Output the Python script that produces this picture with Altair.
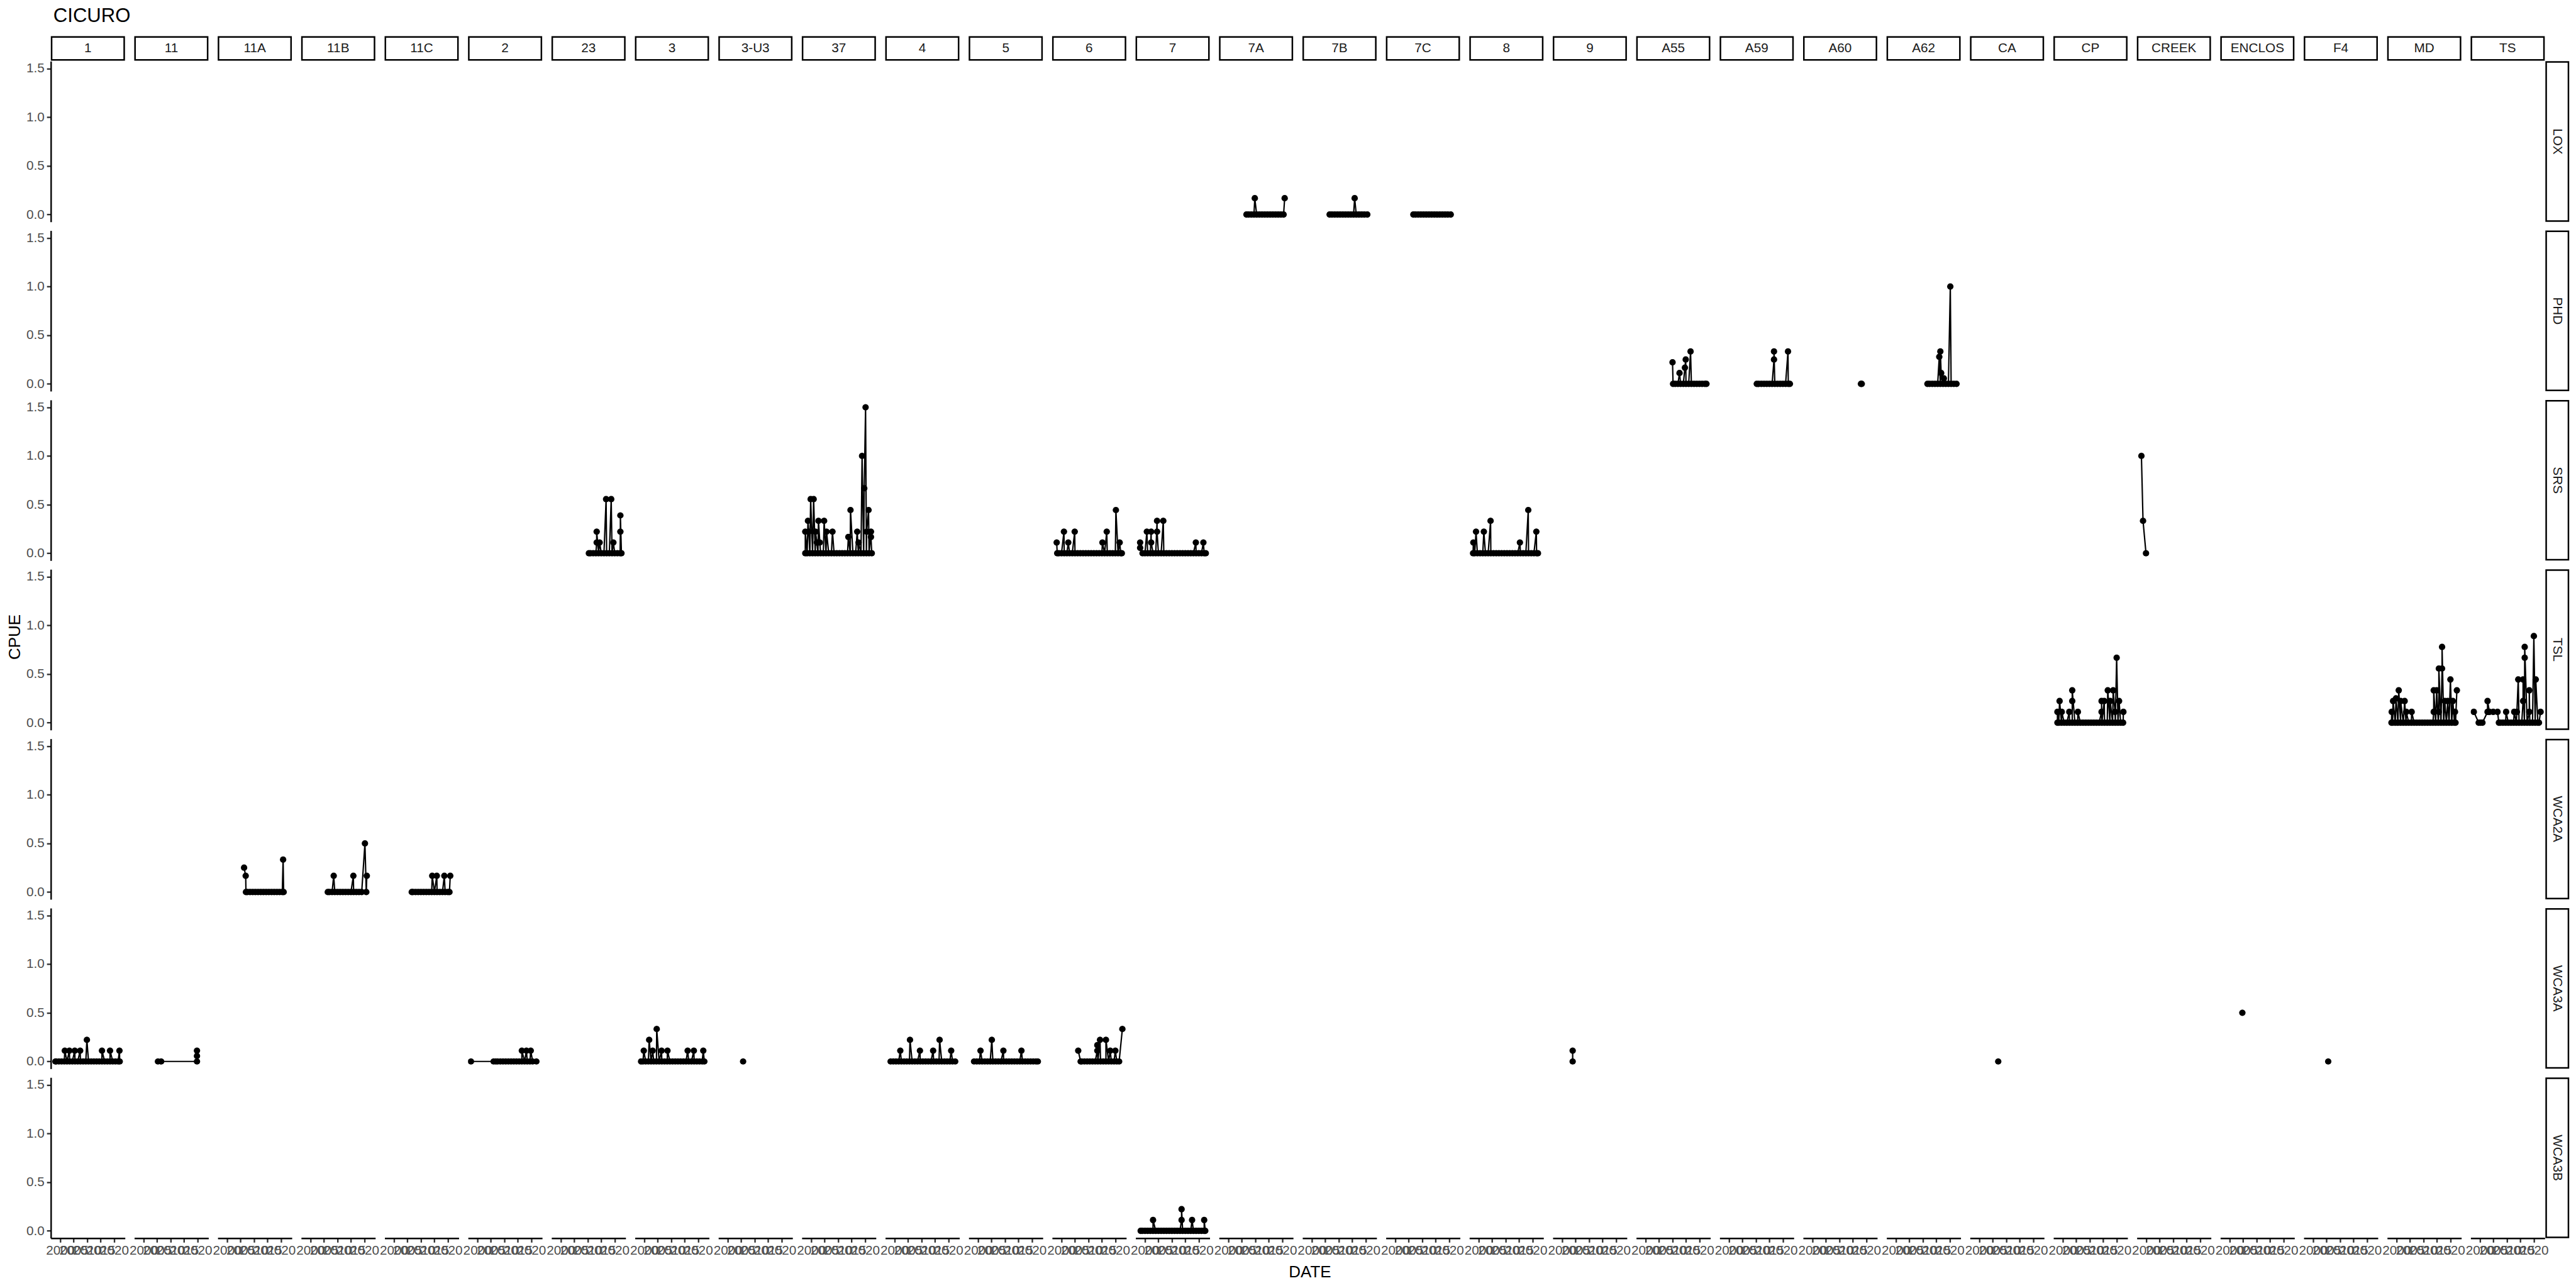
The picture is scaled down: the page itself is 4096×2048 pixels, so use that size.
import altair as alt
import pandas as pd

ROWS = ["LOX", "PHD", "SRS", "TSL", "WCA2A", "WCA3A", "WCA3B"]
COLS = ["1", "11", "11A", "11B", "11C", "2", "23", "3", "3-U3", "37", "4", "5", "6", "7",
        "7A", "7B", "7C", "8", "9", "A55", "A59", "A60", "A62", "CA", "CP", "CREEK",
        "ENCLOS", "F4", "MD", "TS"]
X_TICKS = [2000, 2005, 2010, 2015, 2020]
Y_TICKS = [0.0, 0.5, 1.0, 1.5]

# ---- data: zero-catch sampling dates (decimal year) and non-zero catches ----
LOX_7A_Z = [2006.7, 2007.5, 2008.5, 2009.5, 2010.5, 2011.5, 2012.5, 2013.5, 2014.5, 2015.5, 2016.5, 2017.5, 2018.5, 2019.5, 2020.5]
LOX_7A_S = [(2009.8, 0.167), (2020.9, 0.167)]
LOX_7B_Z = [2006.6, 2007.5, 2008.5, 2009.5, 2010.5, 2011.5, 2012.5, 2013.5, 2014.5, 2015.5, 2016.5, 2017.5, 2018.5, 2019.5, 2020.6]
LOX_7B_S = [(2015.9, 0.167)]
LOX_7C_Z = [2006.7, 2007.5, 2008.5, 2009.5, 2010.5, 2011.5, 2012.5, 2013.5, 2014.5, 2015.5, 2016.5, 2017.5, 2018.5, 2019.5, 2020.6]

PHD_A55_Z = [2010.2, 2011.0, 2012.0, 2013.0, 2014.0, 2015.0, 2016.0, 2017.0, 2018.0, 2019.0, 2020.0, 2021.0, 2022.0, 2022.6]
PHD_A55_S = [(2010.0, 0.222), (2012.6, 0.111), (2014.6, 0.167), (2014.9, 0.25), (2016.7, 0.333)]
PHD_A59_Z = [2010.3, 2011.0, 2012.0, 2013.0, 2014.0, 2015.0, 2016.0, 2017.0, 2018.0, 2019.0, 2020.0, 2021.0, 2022.0, 2022.6]
PHD_A59_S = [(2016.7, 0.25), (2016.7, 0.333), (2021.9, 0.333)]
PHD_A60_Z = [2018.0, 2018.3]
PHD_A62_Z = [2011.7, 2012.5, 2013.5, 2014.5, 2015.5, 2016.5, 2017.5, 2018.5, 2019.5, 2020.5, 2021.5, 2022.5]
PHD_A62_S = [(2016.1, 0.278), (2016.5, 0.333), (2016.8, 0.111), (2017.8, 0.056), (2020.2, 1.0)]

SRS_23_Z = [2010.4, 2011.0, 2012.0, 2013.0, 2014.0, 2015.0, 2016.0, 2017.0, 2018.0, 2019.0, 2020.0, 2021.0, 2022.0, 2022.5]
SRS_23_S = [(2013.3, 0.111), (2013.3, 0.222), (2014.4, 0.111), (2016.8, 0.556), (2018.7, 0.556), (2019.5, 0.111), (2022.1, 0.222), (2022.1, 0.389)]
SRS_37_Z = [1997.8, 1998.5, 1999.5, 2000.5, 2001.5, 2002.5, 2003.5, 2004.5, 2005.5, 2006.5, 2007.5, 2008.5, 2009.5, 2010.5, 2011.5, 2012.5, 2013.5, 2014.5, 2015.5, 2016.5, 2017.5, 2018.5, 2019.5, 2020.5, 2021.5, 2022.5]
SRS_37_S = [(1997.8, 0.222), (1998.8, 0.333), (1999.1, 0.222), (1999.8, 0.556), (2000.9, 0.556), (2001.6, 0.222), (2002.1, 0.111),
            (2002.7, 0.333), (2003.2, 0.111), (2004.8, 0.333), (2005.7, 0.222), (2007.9, 0.222), (2013.8, 0.167), (2014.6, 0.444),
            (2017.1, 0.222), (2017.6, 0.111), (2018.9, 1.0), (2019.7, 0.667), (2020.2, 1.5), (2020.6, 0.222), (2021.3, 0.444),
            (2022.2, 0.222), (2022.2, 0.167)]
SRS_6_Z = [1998.4, 1999.0, 2000.0, 2001.0, 2002.0, 2003.0, 2004.0, 2005.0, 2006.0, 2007.0, 2008.0, 2009.0, 2010.0, 2011.0, 2012.0, 2013.0, 2014.0, 2015.0, 2016.0, 2017.0, 2018.0, 2019.0, 2020.0, 2021.0, 2022.0, 2022.4]
SRS_6_S = [(1998.2, 0.111), (2000.9, 0.222), (2002.5, 0.111), (2004.9, 0.222), (2015.2, 0.111), (2016.8, 0.222), (2020.2, 0.444), (2021.6, 0.111)]
SRS_7_Z = [1999.1, 2000.0, 2001.0, 2002.0, 2003.0, 2004.0, 2005.0, 2006.0, 2007.0, 2008.0, 2009.0, 2010.0, 2011.0, 2012.0, 2013.0, 2014.0, 2015.0, 2016.0, 2017.0, 2018.0, 2019.0, 2020.0, 2021.0, 2022.0, 2022.6]
SRS_7_S = [(1998.2, 0.056), (1998.2, 0.111), (2000.7, 0.222), (2002.3, 0.222), (2002.3, 0.111), (2004.5, 0.333), (2004.5, 0.222),
           (2006.8, 0.333), (2018.9, 0.111), (2021.7, 0.111)]
SRS_8_Z = [1997.9, 1998.5, 1999.5, 2000.5, 2001.5, 2002.5, 2003.5, 2004.5, 2005.5, 2006.5, 2007.5, 2008.5, 2009.5, 2010.5, 2011.5, 2012.5, 2013.5, 2014.5, 2015.5, 2016.5, 2017.5, 2018.5, 2019.5, 2020.5, 2021.5, 2022.0]
SRS_8_S = [(1998.0, 0.111), (1999.0, 0.222), (2001.9, 0.222), (2004.4, 0.333), (2015.3, 0.111), (2018.4, 0.444), (2021.4, 0.222)]
SRS_CREEK_Z = [1999.9]
SRS_CREEK_S = [(1998.2, 1.0), (1998.8, 0.333)]

TSL_CP_Z = [1998.0, 1998.5, 1999.5, 2000.5, 2001.5, 2002.5, 2003.5, 2004.5, 2005.5, 2006.5, 2007.5, 2008.5, 2009.5, 2010.5, 2011.5, 2012.5, 2013.5, 2014.5, 2015.5, 2016.5, 2017.5, 2018.5, 2019.5, 2020.5, 2021.5, 2022.4]
TSL_CP_S = [(1998.0, 0.111), (1998.8, 0.222), (1999.6, 0.111), (2002.4, 0.111), (2003.5, 0.222), (2003.5, 0.333), (2005.6, 0.111),
            (2014.4, 0.111), (2014.4, 0.222), (2015.4, 0.222), (2016.7, 0.333), (2017.6, 0.222), (2018.7, 0.333), (2019.4, 0.111),
            (2020.0, 0.667), (2020.9, 0.222), (2022.5, 0.111)]
TSL_MD_Z = [1998.1, 1998.5, 1999.5, 2000.5, 2001.5, 2002.5, 2003.5, 2004.5, 2005.5, 2006.5, 2007.5, 2008.5, 2009.5, 2010.5, 2011.5, 2012.5, 2013.5, 2014.5, 2015.5, 2016.5, 2017.5, 2018.5, 2019.5, 2020.5, 2021.5, 2021.9]
TSL_MD_S = [(1998.2, 0.111), (1998.7, 0.222), (1999.8, 0.25), (2000.8, 0.333), (2001.5, 0.222), (2003.0, 0.222), (2003.6, 0.111),
            (2005.6, 0.111), (2013.8, 0.111), (2013.8, 0.333), (2014.9, 0.333), (2015.7, 0.111), (2015.7, 0.556), (2016.9, 0.556),
            (2016.9, 0.778), (2017.9, 0.222), (2019.0, 0.222), (2020.0, 0.444), (2020.9, 0.222), (2021.7, 0.111), (2022.4, 0.333)]
TSL_TS_Z = [1999.5, 2000.2, 2000.9, 2007.0, 2007.5, 2008.5, 2009.5, 2010.5, 2011.5, 2012.5, 2013.5, 2014.5, 2015.5, 2016.5, 2017.5, 2018.5, 2019.5, 2020.5, 2021.5, 2021.9]
TSL_TS_S = [(1997.7, 0.111), (2002.8, 0.111), (2002.8, 0.222), (2003.5, 0.111), (2004.9, 0.111), (2006.5, 0.111), (2009.7, 0.111),
            (2012.7, 0.111), (2013.7, 0.111), (2014.2, 0.444), (2016.0, 0.222), (2016.0, 0.444), (2016.6, 0.667), (2016.6, 0.778),
            (2018.3, 0.111), (2018.3, 0.333), (2020.0, 0.889), (2020.7, 0.444), (2022.5, 0.111)]

WCA2A_11A_Z = [2007.0, 2007.5, 2008.5, 2009.5, 2010.5, 2011.5, 2012.5, 2013.5, 2014.5, 2015.5, 2016.5, 2017.5, 2018.5, 2019.5, 2020.5, 2021.0]
WCA2A_11A_S = [(2006.3, 0.25), (2006.9, 0.167), (2020.8, 0.333)]
WCA2A_11B_Z = [2006.4, 2007.0, 2008.0, 2009.0, 2010.0, 2011.0, 2012.0, 2013.0, 2014.0, 2015.0, 2016.0, 2017.0, 2018.0, 2019.0, 2020.7]
WCA2A_11B_S = [(2008.6, 0.167), (2015.9, 0.167), (2020.2, 0.5), (2020.9, 0.167)]
WCA2A_11C_Z = [2006.6, 2007.0, 2008.0, 2009.0, 2010.0, 2011.0, 2012.0, 2013.0, 2014.0, 2015.0, 2016.0, 2017.0, 2018.0, 2019.0, 2020.0, 2020.6]
WCA2A_11C_S = [(2014.2, 0.167), (2015.9, 0.167), (2018.7, 0.167), (2020.9, 0.167)]

WCA3A_1_Z = [1998.2, 1998.5, 1999.5, 2000.5, 2001.5, 2002.5, 2003.5, 2004.5, 2005.5, 2006.5, 2007.5, 2008.5, 2009.5, 2010.5, 2011.5, 2012.5, 2013.5, 2014.5, 2015.5, 2016.5, 2017.5, 2018.5, 2019.5, 2020.5, 2021.5, 2022.1]
WCA3A_1_S = [(2001.7, 0.111), (2003.4, 0.111), (2005.4, 0.111), (2007.4, 0.111), (2009.9, 0.222), (2015.5, 0.111), (2018.5, 0.111), (2022.0, 0.111)]
WCA3A_11_Z = [2005.3, 2006.5, 2019.8]
WCA3A_11_S = [(2019.8, 0.056), (2019.8, 0.111)]
WCA3A_2_Z = [1997.6, 2006.0, 2006.8, 2007.5, 2008.5, 2009.5, 2010.5, 2011.5, 2012.5, 2013.5, 2014.5, 2015.5, 2016.5, 2017.5, 2018.5, 2019.5, 2020.5, 2021.9]
WCA3A_2_S = [(2016.5, 0.111), (2018.2, 0.111), (2019.8, 0.111)]
WCA3A_3_Z = [1998.8, 1999.5, 2000.5, 2001.5, 2002.5, 2003.5, 2004.5, 2005.5, 2006.5, 2007.5, 2008.5, 2009.5, 2010.5, 2011.5, 2012.5, 2013.5, 2014.5, 2015.5, 2016.5, 2017.5, 2018.5, 2019.5, 2020.5, 2021.5, 2022.3]
WCA3A_3_S = [(1999.8, 0.111), (2001.8, 0.222), (2003.1, 0.111), (2004.6, 0.333), (2006.4, 0.111), (2008.6, 0.111), (2016.1, 0.111), (2018.4, 0.111), (2021.9, 0.111)]
WCA3A_3U3_Z = [2005.7]
WCA3A_4_Z = [1998.5, 1999.5, 2000.5, 2001.5, 2002.5, 2003.5, 2004.5, 2005.5, 2006.5, 2007.5, 2008.5, 2009.5, 2010.5, 2011.5, 2012.5, 2013.5, 2014.5, 2015.5, 2016.5, 2017.5, 2018.5, 2019.5, 2020.5, 2021.5, 2022.5]
WCA3A_4_S = [(2002.1, 0.111), (2005.7, 0.222), (2009.4, 0.111), (2014.3, 0.111), (2016.7, 0.222), (2021.0, 0.111)]
WCA3A_5_Z = [1998.5, 1999.5, 2000.5, 2001.5, 2002.5, 2003.5, 2004.5, 2005.5, 2006.5, 2007.5, 2008.5, 2009.5, 2010.5, 2011.5, 2012.5, 2013.5, 2014.5, 2015.5, 2016.5, 2017.5, 2018.5, 2019.5, 2020.5, 2021.5, 2022.2]
WCA3A_5_S = [(2000.9, 0.111), (2005.1, 0.222), (2009.4, 0.111), (2016.1, 0.111)]
WCA3A_6_Z = [2007.1, 2007.5, 2008.5, 2009.5, 2010.5, 2011.5, 2012.5, 2013.5, 2014.5, 2015.5, 2016.5, 2017.5, 2018.5, 2019.5, 2020.5, 2021.4]
WCA3A_6_S = [(2006.2, 0.111), (2013.3, 0.111), (2013.3, 0.167), (2014.3, 0.222), (2016.5, 0.222), (2018.1, 0.111), (2020.0, 0.111), (2022.6, 0.333)]
WCA3A_9_Z = [2003.9]
WCA3A_9_S = [(2003.9, 0.111)]
WCA3A_CA_Z = [2007.0]
WCA3A_ENCLOS_S = [(2004.7, 0.5)]
WCA3A_F4_Z = [2005.6]

WCA3B_7_Z = [1998.4, 1999.0, 2000.0, 2001.0, 2002.0, 2003.0, 2004.0, 2005.0, 2006.0, 2007.0, 2008.0, 2009.0, 2010.0, 2011.0, 2012.0, 2013.0, 2014.0, 2015.0, 2016.0, 2017.0, 2018.0, 2019.0, 2020.0, 2021.0, 2022.0, 2022.4]
WCA3B_7_S = [(2003.0, 0.111), (2013.6, 0.111), (2013.6, 0.222), (2017.5, 0.111), (2022.0, 0.111)]

PANELS = [
    ("LOX", "7A", LOX_7A_Z, LOX_7A_S), ("LOX", "7B", LOX_7B_Z, LOX_7B_S), ("LOX", "7C", LOX_7C_Z, []),
    ("PHD", "A55", PHD_A55_Z, PHD_A55_S), ("PHD", "A59", PHD_A59_Z, PHD_A59_S),
    ("PHD", "A60", PHD_A60_Z, []), ("PHD", "A62", PHD_A62_Z, PHD_A62_S),
    ("SRS", "23", SRS_23_Z, SRS_23_S), ("SRS", "37", SRS_37_Z, SRS_37_S), ("SRS", "6", SRS_6_Z, SRS_6_S),
    ("SRS", "7", SRS_7_Z, SRS_7_S), ("SRS", "8", SRS_8_Z, SRS_8_S), ("SRS", "CREEK", SRS_CREEK_Z, SRS_CREEK_S),
    ("TSL", "CP", TSL_CP_Z, TSL_CP_S), ("TSL", "MD", TSL_MD_Z, TSL_MD_S), ("TSL", "TS", TSL_TS_Z, TSL_TS_S),
    ("WCA2A", "11A", WCA2A_11A_Z, WCA2A_11A_S), ("WCA2A", "11B", WCA2A_11B_Z, WCA2A_11B_S),
    ("WCA2A", "11C", WCA2A_11C_Z, WCA2A_11C_S),
    ("WCA3A", "1", WCA3A_1_Z, WCA3A_1_S), ("WCA3A", "11", WCA3A_11_Z, WCA3A_11_S), ("WCA3A", "2", WCA3A_2_Z, WCA3A_2_S),
    ("WCA3A", "3", WCA3A_3_Z, WCA3A_3_S), ("WCA3A", "3-U3", WCA3A_3U3_Z, []), ("WCA3A", "4", WCA3A_4_Z, WCA3A_4_S),
    ("WCA3A", "5", WCA3A_5_Z, WCA3A_5_S), ("WCA3A", "6", WCA3A_6_Z, WCA3A_6_S), ("WCA3A", "9", WCA3A_9_Z, WCA3A_9_S),
    ("WCA3A", "CA", WCA3A_CA_Z, []), ("WCA3A", "ENCLOS", [], WCA3A_ENCLOS_S), ("WCA3A", "F4", WCA3A_F4_Z, []),
    ("WCA3B", "7", WCA3B_7_Z, WCA3B_7_S),
]

records = []
for row, col, zeros, spikes in PANELS:
    pts = [(d, 0.0) for d in zeros] + list(spikes)
    pts.sort(key=lambda p: p[0])
    for i, (d, v) in enumerate(pts):
        records.append({"kind": "data", "row": row, "col": col, "year": d, "cpue": v, "seq": i, "label": ""})
# one placeholder per grid cell so that every panel of the grid exists
for r in ROWS:
    for c in COLS:
        records.append({"kind": "blank", "row": r, "col": c, "year": None, "cpue": None, "seq": 0, "label": ""})
for c in COLS:
    records.append({"kind": "top", "row": ROWS[0], "col": c, "year": None, "cpue": None, "seq": 0, "label": c})
for r in ROWS:
    records.append({"kind": "right", "row": r, "col": COLS[-1], "year": None, "cpue": None, "seq": 0, "label": r})
df = pd.DataFrame(records)

# ---- layout constants ----
W = 118.2
H = 256
FONT = "Liberation Sans"
AXIS_W = 2.4

x_enc = alt.X("year:Q",
              scale=alt.Scale(domain=[1996.5, 2024.05], nice=False, zero=False),
              axis=alt.Axis(values=X_TICKS, format="d", title=None, grid=False,
                            labelFontSize=20.8, labelColor="#4D4D4D", labelFont=FONT,
                            labelOverlap=False, labelFlush=False, labelPadding=3,
                            tickColor="#333333", tickSize=6.6, tickWidth=AXIS_W,
                            domainColor="black", domainWidth=AXIS_W))
y_enc = alt.Y("cpue:Q",
              scale=alt.Scale(domain=[-0.075, 1.575], nice=False, zero=False),
              axis=alt.Axis(values=Y_TICKS, format=".1f", title=None, grid=False,
                            labelFontSize=20.8, labelColor="#4D4D4D", labelFont=FONT,
                            labelOverlap=False, labelFlush=False, labelPadding=4,
                            tickColor="#333333", tickSize=6.6, tickWidth=AXIS_W,
                            domainColor="black", domainWidth=AXIS_W))

base = alt.Chart()
data_f = "datum.kind == 'data'"
line = base.mark_line(color="black", strokeWidth=2.2, clip=True).encode(
    x=x_enc, y=y_enc, order=alt.Order("seq:Q")).transform_filter(data_f)
pts = base.mark_circle(color="black", size=105, opacity=1, clip=True).encode(
    x=x_enc, y=y_enc).transform_filter(data_f)

top_rect = base.mark_rect(fill="white", stroke="black", strokeWidth=2.5).encode(
    x=alt.value(1.25), x2=alt.value(W - 1.25), y=alt.value(-38.5), y2=alt.value(-2)
).transform_filter("datum.kind == 'top'")
top_text = base.mark_text(fontSize=20.8, color="#1A1A1A", font=FONT, baseline="middle", align="center").encode(
    x=alt.value(W / 2), y=alt.value(-20), text="label:N"
).transform_filter("datum.kind == 'top'")
right_rect = base.mark_rect(fill="white", stroke="black", strokeWidth=2.5).encode(
    x=alt.value(W + 2.25), x2=alt.value(W + 37.75), y=alt.value(1.25), y2=alt.value(H - 1.25)
).transform_filter("datum.kind == 'right'")
right_text = base.mark_text(fontSize=20.8, color="#1A1A1A", font=FONT, baseline="middle", align="center", angle=90).encode(
    x=alt.value(W + 20), y=alt.value(H / 2), text="label:N"
).transform_filter("datum.kind == 'right'")

layered = alt.layer(line, pts, top_rect, top_text, right_rect, right_text, data=df).properties(width=W, height=H)

chart = layered.facet(
    row=alt.Row("row:N", sort=ROWS,
                header=alt.Header(labels=False, labelPadding=0, title="CPUE", titleOrient="left", titleFontSize=26,
                                  titleFont=FONT, titleFontWeight="normal", titleColor="black", titlePadding=-6)),
    column=alt.Column("col:N", sort=COLS,
                      header=alt.Header(labels=False, labelPadding=0, title="DATE", titleOrient="bottom",
                                        titleFontSize=26, titleFont=FONT, titleFontWeight="normal",
                                        titleColor="black", titlePadding=1)),
    spacing={"row": 14, "column": 14},
).properties(
    align="each",
    bounds="full",
    title=alt.TitleParams("CICURO", anchor="start", fontSize=31.2, fontWeight="normal", color="black",
                          font=FONT, offset=16.5, dx=74),
    padding={"left": 10, "top": 7, "right": 10, "bottom": 10},
    background="white",
).configure(font=FONT, view=alt.ViewConfig(stroke=None))

chart.save("out.html", embed_options={"renderer": "svg", "actions": False})
